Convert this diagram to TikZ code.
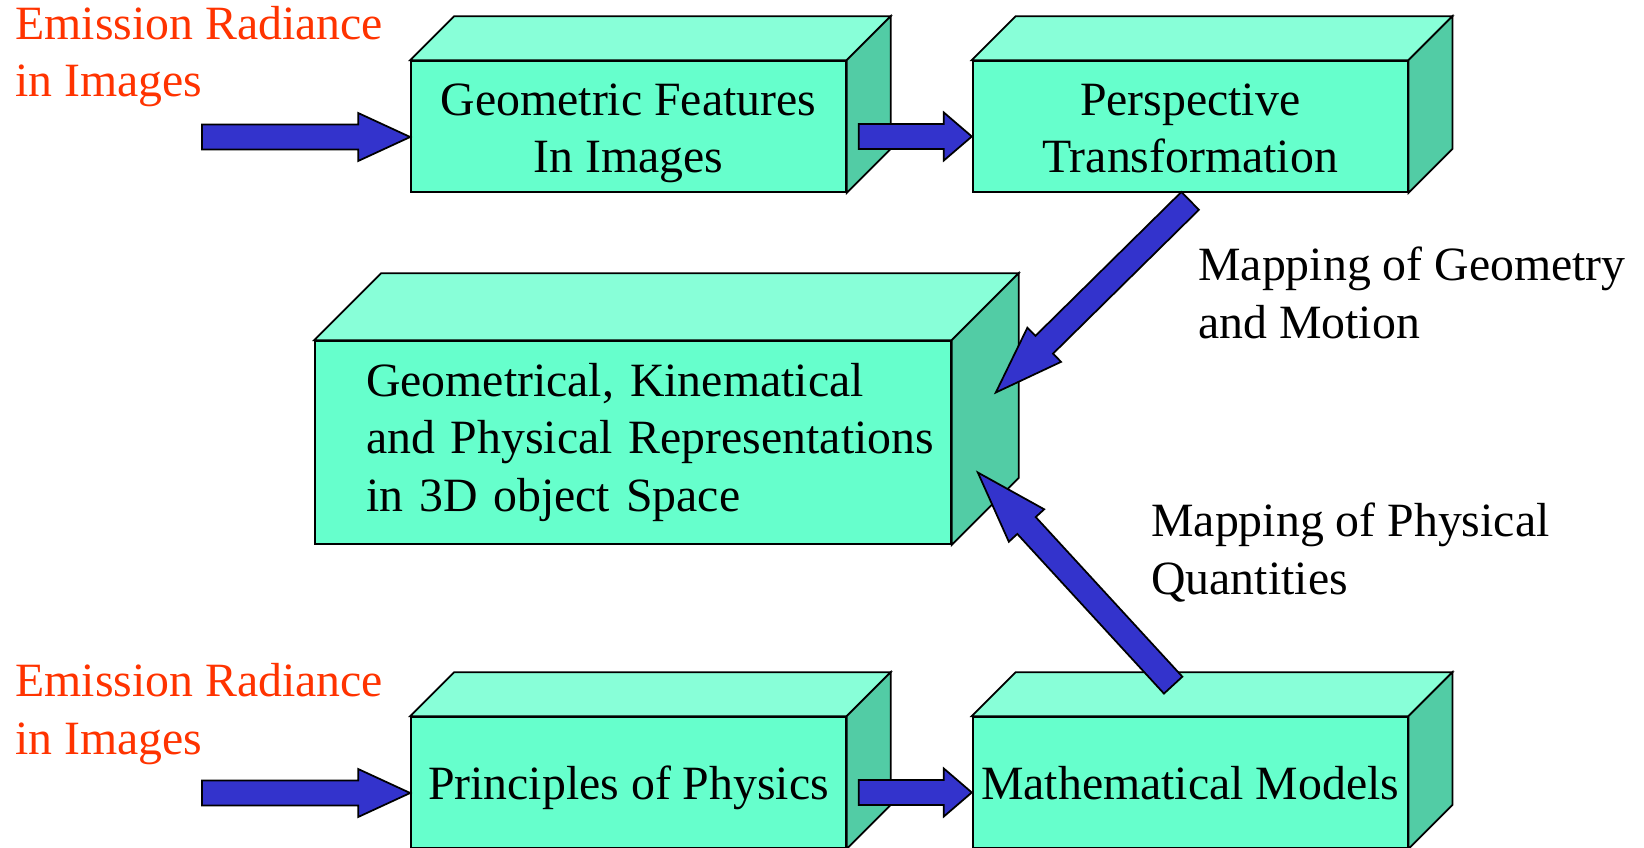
\documentclass[tikz,border=0pt]{standalone}
\usepackage{fontspec}
\setmainfont{Liberation Serif}
\usetikzlibrary{calc,positioning}

\definecolor{frontgreen}{HTML}{66FFCC}
\definecolor{topgreen}{HTML}{88FFD8}
\definecolor{sidegreen}{HTML}{52CCA5}
\definecolor{arrowblue}{HTML}{3333CC}
\definecolor{inputred}{HTML}{FF3300}

% fat arrow from #2 to #3, #1 = head length
\newcommand{\blockarrow}[3][1.04cm]{%
    \coordinate (hb) at ($(#3)!#1!(#2)$);
    \draw[block arrow]
        ($(#2)!0.25cm!90:(#3)$) -- ($(hb)!0.25cm!90:(#3)$) --
        ($(hb)!0.48cm!90:(#3)$) -- (#3) --
        ($(hb)!0.48cm!-90:(#3)$) -- ($(hb)!0.25cm!-90:(#3)$) --
        ($(#2)!0.25cm!-90:(#3)$) -- cycle;
}

\begin{document}
\begin{tikzpicture}[
        x=0.02cm, y=-0.02cm,
        big font/.style = {font=\fontsize{27.2}{32.8}\selectfont},
        box front/.style = {
            draw,
            fill=frontgreen,
            line width=1pt,
            big font,
            align=center,
            inner sep=0pt,
            text depth=8pt},
        small box/.style = {minimum width=8.7cm, minimum height=2.62cm},
        top face/.style = {draw, fill=topgreen, line width=1pt},
        side face/.style = {draw, fill=sidegreen, line width=1pt},
        block arrow/.style = {draw, fill=arrowblue, line width=1pt},
        input text/.style = {big font, text=inputred, align=left, anchor=base west, inner sep=0pt},
        map text/.style = {big font, align=left, anchor=base west, inner sep=0pt}
    ]
    \useasboundingbox (0,0) rectangle (1644,848);
    \clip (0,0) rectangle (1644,848);

    \node[box front, small box, text height=60.6pt] (geo) at (628.5,126.5) {Geometric Features\\In Images};
    \node[box front, small box, text height=60.6pt, right=2.5cm of geo] (persp) {Perspective\\Transformation};
    \node[box front, minimum width=12.72cm, minimum height=4.06cm, align=left, text width=10.68cm, text depth=] (rep) at (633,442.5)
        {Geometrical, Kinematical\\\mbox{and Physical Representations}\\in 3D object Space};
    \node[box front, small box, text height=27.9pt] (phys) at (628.5,782.5) {Principles of Physics};
    \node[box front, small box, text height=27.9pt, right=2.5cm of phys] (math) {Mathematical Models};

    \foreach \n/\d in {geo/44, persp/44, rep/67, phys/44, math/44} {
        \draw[top face] (\n.north west) -- ++(\d,-\d) -- ($(\n.north east)+(\d,-\d)$) -- (\n.north east) -- cycle;
        \draw[side face] (\n.north east) -- ++(\d,-\d) -- ($(\n.south east)+(\d,-\d)$) -- (\n.south east) -- cycle;
    }

    \node[input text] (src top) at (15,97) {Emission Radiance\\in Images};
    \node[input text] (src bottom) at (15,754) {Emission Radiance\\in Images};
    \node[map text] (geo map) at (1198,338) {Mapping of Geometry\\and Motion};
    \node[map text] (phys map) at (1151,594) {Mapping of Physical\\Quantities};

    % arrows
    \coordinate (in1) at (202,137);
    \coordinate (in1 end) at (in1 -| geo.west);
    \blockarrow{in1}{in1 end}
    \coordinate (a2) at ([shift={(12,10)}]geo.east);
    \coordinate (a2 end) at (a2 -| persp.west);
    \blockarrow[0.56cm]{a2}{a2 end}
    \coordinate (a3) at ([shift={(0,8)}]persp.south);
    \coordinate (a3 end) at ([shift={(44,-50)}]rep.east);
    \blockarrow[1.36cm]{a3}{a3 end}
    \coordinate (a4) at ([shift={(-17,-31)}]math.north);
    \coordinate (a4 end) at ([shift={(26,30)}]rep.east);
    \blockarrow[1.44cm]{a4}{a4 end}
    \coordinate (in2) at (202,793);
    \coordinate (in2 end) at (in2 -| phys.west);
    \blockarrow{in2}{in2 end}
    \coordinate (a6) at ([shift={(12,10)}]phys.east);
    \coordinate (a6 end) at (a6 -| math.west);
    \blockarrow[0.56cm]{a6}{a6 end}
\end{tikzpicture}
\end{document}
